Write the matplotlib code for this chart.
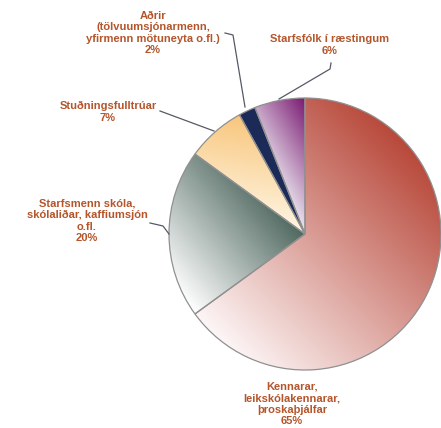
import numpy as np
import matplotlib.pyplot as plt
from matplotlib.colors import LinearSegmentedColormap

# slices, clockwise from 12 o'clock
labels = ['Kennarar,\nleikskólakennarar,\nþroskaþjálfar',
          'Starfsmenn skóla,\nskólaliðar, kaffiumsjón\no.fl.',
          'Stuðningsfulltrúar',
          'Aðrir\n(tölvuumsjónarmenn,\nyfirmenn mötuneyta o.fl.)',
          'Starfsfólk í ræstingum']
values = [65, 20, 7, 2, 6]

# gradient colours (light end, dark end, direction of darkening in degrees)
shades = [('#fdf6f6', '#b8493b', 45),
          ('#ffffff', '#4f685f', 40),
          ('#fff6e4', '#f8c67c', 80),
          ('#1c2a58', '#1c2a58', 0),
          ('#eae4ee', '#7a1a72', 30)]

W, H = 441, 428
cx, cy, R = 305, 428 - 234, 136
txt_col = '#b4552c'

fig = plt.figure(figsize=(W / 100, H / 100), dpi=100)
ax = fig.add_axes([0, 0, 1, 1])

wedges, _ = ax.pie(values, center=(cx, cy), radius=R, startangle=90,
                   counterclock=False, frame=True,
                   wedgeprops=dict(edgecolor='#909090', linewidth=0.9,
                                   facecolor='none'))
ax.set_xlim(0, W)
ax.set_ylim(0, H)
ax.set_aspect('equal')
ax.axis('off')

gx, gy = np.meshgrid(np.linspace(cx - R, cx + R, 300),
                     np.linspace(cy - R, cy + R, 300))
for w, (c0, c1, ang) in zip(wedges, shades):
    d = np.array([np.cos(np.radians(ang)), np.sin(np.radians(ang))])
    th = np.radians(np.linspace(w.theta1, w.theta2, 50))
    px = np.r_[cx, cx + R * np.cos(th)]
    py = np.r_[cy, cy + R * np.sin(th)]
    proj = px * d[0] + py * d[1]
    t = (gx * d[0] + gy * d[1] - proj.min()) / max(proj.max() - proj.min(), 1e-6)
    cmap = LinearSegmentedColormap.from_list('g', [c0, c1])
    im = ax.imshow(np.clip(t, 0, 1), cmap=cmap, vmin=0, vmax=1, origin='lower',
                   extent=(cx - R, cx + R, cy - R, cy + R), zorder=1,
                   interpolation='bilinear')
    im.set_clip_path(w)
    w.set_zorder(2)

# label positions (image pixels) and leader lines
label_pos = [(292, 404), (87, 221), (108, 112), (153, 33), (330, 45)]
leaders = [None,
           [(150, 223), (163, 226), (169, 234)],
           [(160, 111), (214, 131)],
           [(225, 33), (233, 35), (245, 107)],
           [(331, 63), (330, 69), (279, 99)]]

for lab, v, (x, y), ld in zip(labels, values, label_pos, leaders):
    ax.text(x, H - y, f'{lab}\n{v}%', ha='center', va='center',
            fontsize=8, fontweight='bold', color=txt_col,
            family='Liberation Sans', linespacing=1.2, zorder=4)
    if ld:
        xs, ys = zip(*ld)
        ax.plot(xs, [H - yy for yy in ys], color='#555a66', lw=0.9, zorder=3)

fig.savefig('out.png', dpi=100, facecolor='white')
